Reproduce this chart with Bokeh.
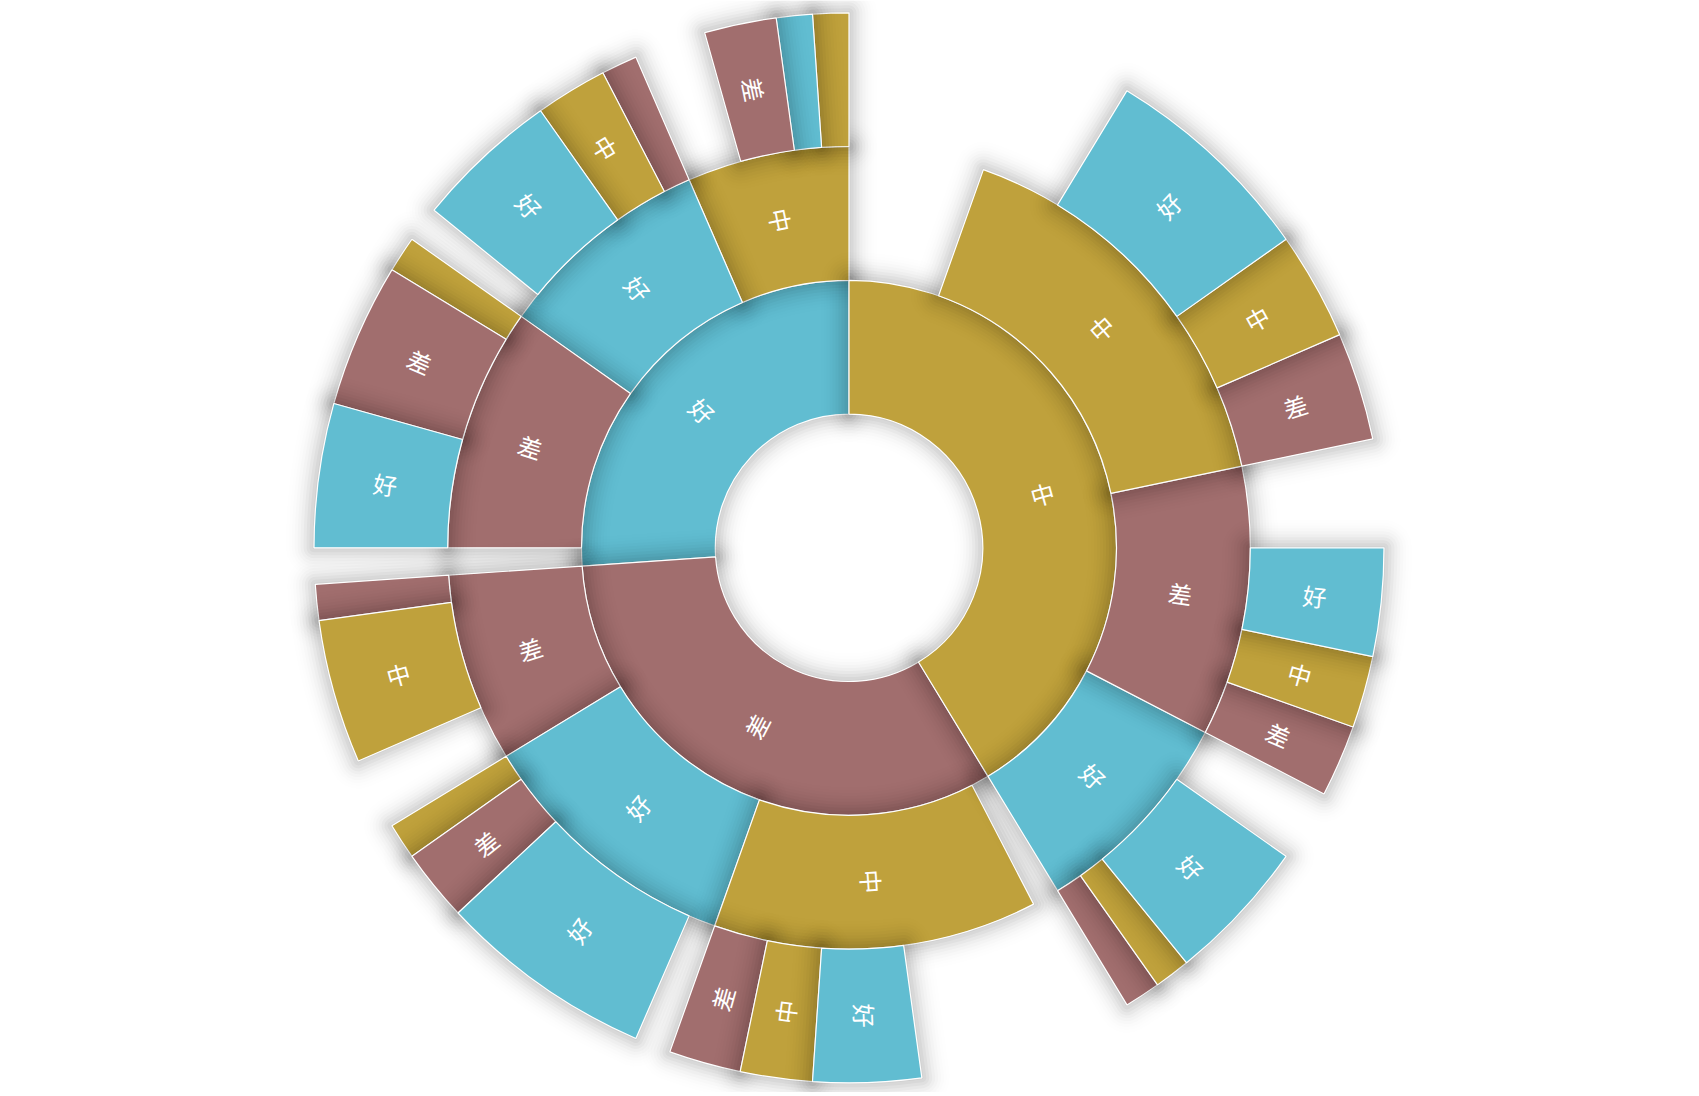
import numpy as np
from bokeh.plotting import figure
from bokeh.models import Range1d, ColumnDataSource
from bokeh.core.properties import value
from bokeh.embed import file_html
from bokeh.resources import INLINE

# ---------------- data ----------------
l1_names = ["好", "差", "中"]
l1_values = [24, 30, 38]

l2_parent = [0, 0, 0, 1, 1, 1, 2, 2, 2]
l2_names = ["中", "好", "差", "差", "好", "中", "好", "差", "中"]
l2_values = [6, 8, 9, 7, 10, 12, 8, 10, 15]

l3_parent = [0, 0, 0, 1, 1, 1, 2, 2, 2, 3, 3, 4, 4, 4, 5, 5, 5, 6, 6, 6, 7, 7, 7, 8, 8, 8]
l3_names = ["中", "好", "差", "差", "中", "好", "中", "差", "好", "差", "中",
            "中", "差", "好", "差", "中", "好", "差", "中", "好", "差", "中", "好",
            "差", "中", "好"]
l3_values = [1, 1, 2, 1, 2, 4, 1, 4, 4, 1, 4, 1, 2, 6, 2, 2, 3, 1, 1, 4, 2, 2, 3, 3, 3, 6]

colors = {"好": "#61BDD1", "中": "#BFA13C", "差": "#A16E6E"}

# ---------------- layout ----------------
W, H = 1690, 1092
cx, cy = 848.5, H - 547.3
radii = [133.7, 267.5, 401.3, 535.0]
total = sum(l1_values)
unit = 2 * np.pi / total
start = np.pi / 2

l1_nodes = []
cum = 0
for n, v in zip(l1_names, l1_values):
    a0 = start + cum * unit
    l1_nodes.append(dict(level=0, name=n, value=v, a0=a0, a1=a0 + v * unit, children=[]))
    cum += v

l2_nodes = []
l2_cum = [0] * len(l1_nodes)
for par, n, v in zip(l2_parent, l2_names, l2_values):
    pn = l1_nodes[par]
    a0 = pn["a0"] + l2_cum[par] * unit
    node = dict(level=1, name=n, value=v, a0=a0, a1=a0 + v * unit, children=[])
    l2_cum[par] += v
    pn["children"].append(node)
    l2_nodes.append(node)

l3_cum = [0] * len(l2_nodes)
for par, n, v in zip(l3_parent, l3_names, l3_values):
    pn = l2_nodes[par]
    a0 = pn["a0"] + l3_cum[par] * unit
    node = dict(level=2, name=n, value=v, a0=a0, a1=a0 + v * unit, children=[])
    l3_cum[par] += v
    pn["children"].append(node)

order = []
def walk(nd):
    order.append(nd)
    for c in nd["children"]:
        walk(c)
for nd in l1_nodes:
    walk(nd)

# ---------------- figure ----------------
p = figure(width=W, height=H, x_range=Range1d(0, W), y_range=Range1d(0, H),
           output_backend="svg", toolbar_location=None, min_border=0,
           x_axis_type=None, y_axis_type=None)
p.grid.visible = False
p.outline_line_color = None
p.background_fill_color = "white"
p.border_fill_color = "white"


def arc_pts(c, r, t0, t1, n):
    t = np.linspace(t0, t1, n)
    return list(c[0] + r * np.cos(t)), list(c[1] + r * np.sin(t))


def offset_sector(r0, r1, a0, a1, d):
    xs, ys = [], []
    n_out = max(8, int((a1 - a0) * (r1 + d) / 4))
    x, y = arc_pts((cx, cy), r1 + d, a0, a1, n_out); xs += x; ys += y
    c = (cx + r1 * np.cos(a1), cy + r1 * np.sin(a1))
    x, y = arc_pts(c, d, a1, a1 + np.pi / 2, 6); xs += x; ys += y
    c = (cx + r0 * np.cos(a1), cy + r0 * np.sin(a1))
    x, y = arc_pts(c, d, a1 + np.pi / 2, a1 + np.pi, 6); xs += x; ys += y
    n_in = max(8, int((a1 - a0) * (r0 - d) / 4))
    x, y = arc_pts((cx, cy), r0 - d, a1, a0, n_in); xs += x; ys += y
    c = (cx + r0 * np.cos(a0), cy + r0 * np.sin(a0))
    x, y = arc_pts(c, d, a0 + np.pi, a0 + 1.5 * np.pi, 6); xs += x; ys += y
    c = (cx + r1 * np.cos(a0), cy + r1 * np.sin(a0))
    x, y = arc_pts(c, d, a0 + 1.5 * np.pi, a0 + 2 * np.pi, 6); xs += x; ys += y
    return xs, ys


sigma, amp, step = 12.0, 0.4, 3.0
layers = []
d = step / 2
while d < 36:
    a = amp * np.exp(-d * d / (2 * sigma * sigma)) / (sigma * np.sqrt(2 * np.pi)) * step
    layers.append((d, a))
    d += step
layers = layers[::-1]

for nd in order:
    r0, r1 = radii[nd["level"]], radii[nd["level"] + 1]
    sx, sy, sa = [], [], []
    for dd, aa in layers:
        x, y = offset_sector(r0, r1, nd["a0"], nd["a1"], dd)
        sx.append(x); sy.append(y); sa.append(aa)
    p.patches(xs="xs", ys="ys", fill_alpha="alpha", fill_color="black", line_color=None,
              source=ColumnDataSource(dict(xs=sx, ys=sy, alpha=sa)))
    p.annular_wedge(x=cx, y=cy, inner_radius=r0, outer_radius=r1,
                    start_angle=nd["a0"], end_angle=nd["a1"], direction="anticlock",
                    fill_color=colors[nd["name"]], line_color="white", line_width=1.2)

# ---------------- labels ----------------
lx, ly, lt, la = [], [], [], []
for nd in order:
    if nd["value"] < 2:
        continue
    r0, r1 = radii[nd["level"]], radii[nd["level"] + 1]
    mid = (nd["a0"] + nd["a1"]) / 2
    rm = (r0 + r1) / 2
    lx.append(cx + rm * np.cos(mid))
    ly.append(cy + rm * np.sin(mid))
    lt.append(nd["name"])
    ang = mid
    if np.cos(mid) < 0:
        ang = mid - np.pi
    la.append(ang)

p.text(x="x", y="y", text="text", angle="angle",
       source=ColumnDataSource(dict(x=lx, y=ly, text=lt, angle=la)),
       text_align="center", text_baseline="middle", text_color="white",
       text_font=value("Noto Sans CJK SC"), text_font_size="24px")

open("out.html", "w").write(file_html(p, INLINE))
